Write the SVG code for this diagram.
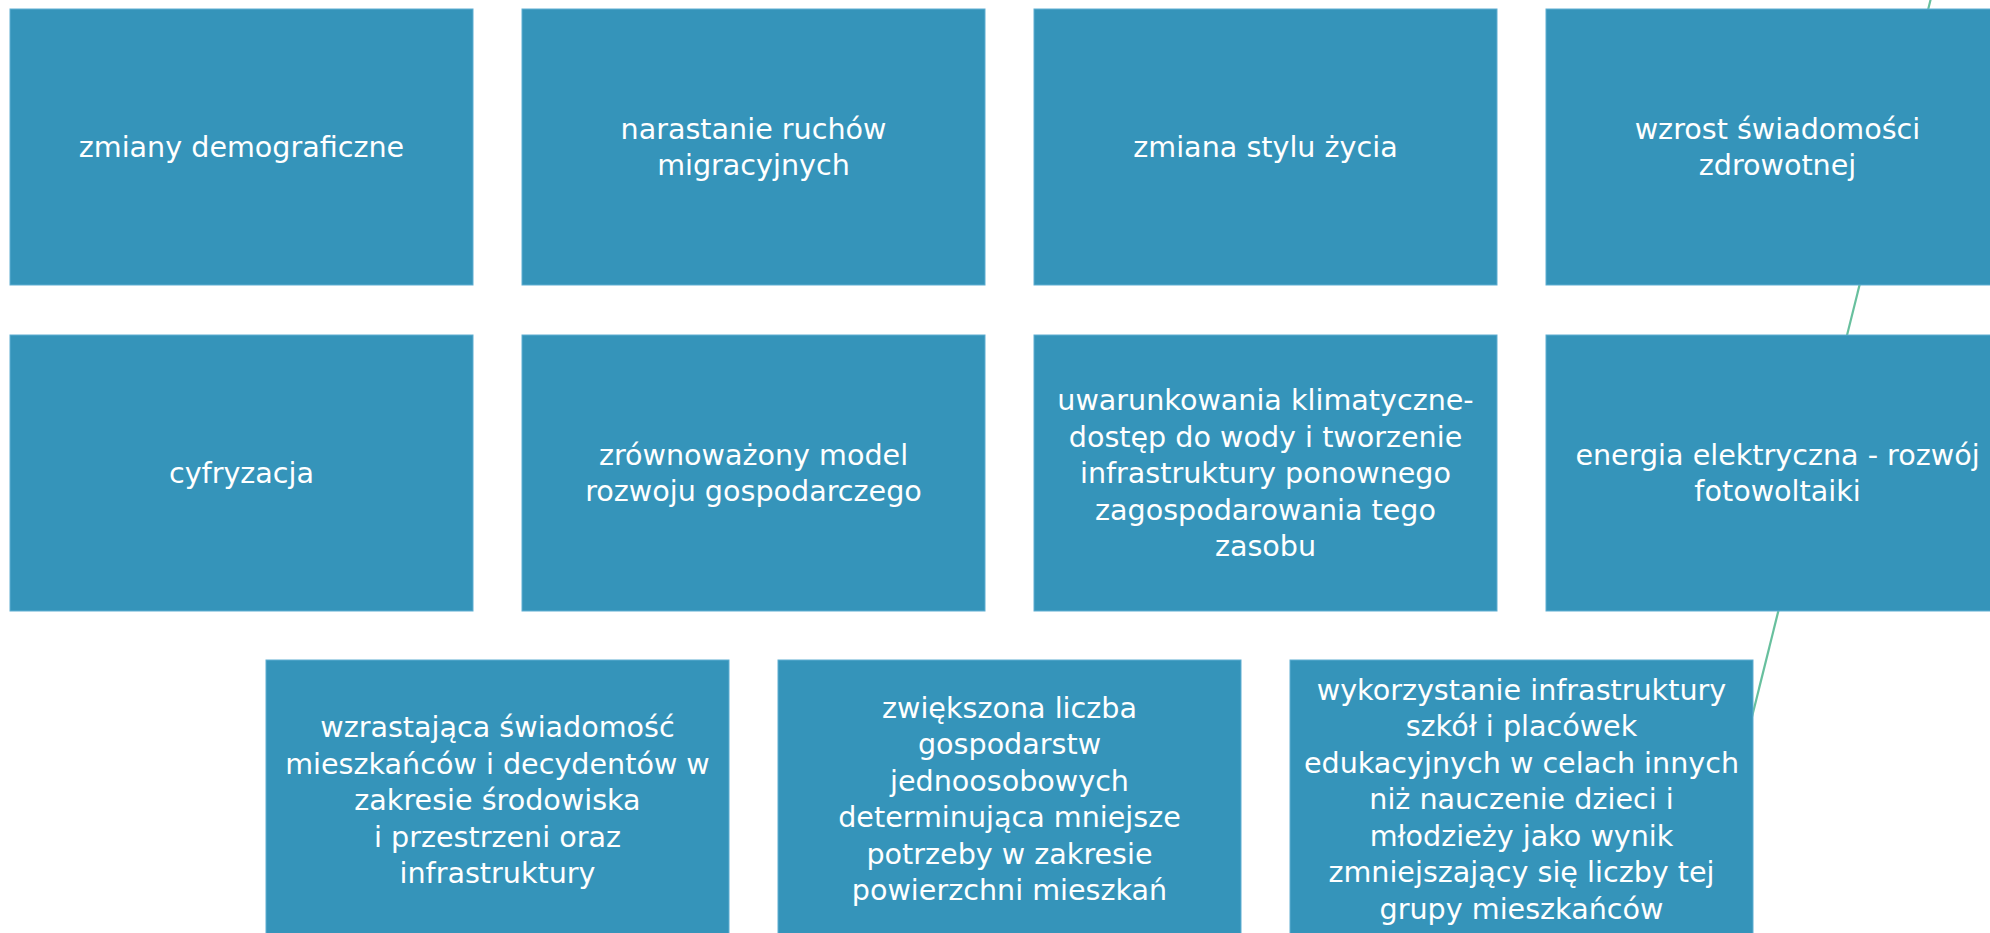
<svg xmlns="http://www.w3.org/2000/svg" width="1990" height="933" viewBox="0 0 1990 933">
<style>
.box{fill:#3594ba;stroke:#5eaed2;stroke-width:1}
.t{font-family:"DejaVu Sans","Open Sans",sans-serif;font-size:28.6px;fill:#ffffff;text-anchor:middle}
.conn{stroke:#68c09e;stroke-width:2.2;fill:none}
</style>
<rect width="1990" height="933" fill="#ffffff"/>
<g id="connectors">
<line class="conn" x1="1933" y1="-10" x2="1740" y2="765"/>
</g>
<g id="n1"><rect class="box" x="10" y="9" width="463" height="276"/>
<text class="t"><tspan x="241.5" y="157">zmiany demograficzne</tspan></text></g>
<g id="n2"><rect class="box" x="522" y="9" width="463" height="276"/>
<text class="t"><tspan x="753.5" y="138.75">narastanie ruchów</tspan><tspan x="753.5" y="175.25">migracyjnych</tspan></text></g>
<g id="n3"><rect class="box" x="1034" y="9" width="463" height="276"/>
<text class="t"><tspan x="1265.5" y="157">zmiana stylu życia</tspan></text></g>
<g id="n4"><rect class="box" x="1546" y="9" width="463" height="276"/>
<text class="t"><tspan x="1777.5" y="138.75">wzrost świadomości</tspan><tspan x="1777.5" y="175.25">zdrowotnej</tspan></text></g>
<g id="n5"><rect class="box" x="10" y="335" width="463" height="276"/>
<text class="t"><tspan x="241.5" y="483">cyfryzacja</tspan></text></g>
<g id="n6"><rect class="box" x="522" y="335" width="463" height="276"/>
<text class="t"><tspan x="753.5" y="464.75">zrównoważony model</tspan><tspan x="753.5" y="501.25">rozwoju gospodarczego</tspan></text></g>
<g id="n7"><rect class="box" x="1034" y="335" width="463" height="276"/>
<text class="t"><tspan x="1265.5" y="410">uwarunkowania klimatyczne-</tspan><tspan x="1265.5" y="446.5">dostęp do wody i tworzenie</tspan><tspan x="1265.5" y="483">infrastruktury ponownego</tspan><tspan x="1265.5" y="519.5">zagospodarowania tego</tspan><tspan x="1265.5" y="556">zasobu</tspan></text></g>
<g id="n8"><rect class="box" x="1546" y="335" width="463" height="276"/>
<text class="t"><tspan x="1777.5" y="464.75">energia elektryczna - rozwój</tspan><tspan x="1777.5" y="501.25">fotowoltaiki</tspan></text></g>
<g id="n9"><rect class="box" x="266" y="660" width="463" height="276"/>
<text class="t"><tspan x="497.5" y="737">wzrastająca świadomość</tspan><tspan x="497.5" y="773.5">mieszkańców i decydentów w</tspan><tspan x="497.5" y="810">zakresie środowiska</tspan><tspan x="497.5" y="846.5">i przestrzeni oraz</tspan><tspan x="497.5" y="883">infrastruktury</tspan></text></g>
<g id="n10"><rect class="box" x="778" y="660" width="463" height="276"/>
<text class="t"><tspan x="1009.5" y="717.75">zwiększona liczba</tspan><tspan x="1009.5" y="754.25">gospodarstw</tspan><tspan x="1009.5" y="790.75">jednoosobowych</tspan><tspan x="1009.5" y="827.25">determinująca mniejsze</tspan><tspan x="1009.5" y="863.75">potrzeby w zakresie</tspan><tspan x="1009.5" y="900.25">powierzchni mieszkań</tspan></text></g>
<g id="n11"><rect class="box" x="1290" y="660" width="463" height="276"/>
<text class="t"><tspan x="1521.5" y="699.5">wykorzystanie infrastruktury</tspan><tspan x="1521.5" y="736">szkół i placówek</tspan><tspan x="1521.5" y="772.5">edukacyjnych w celach innych</tspan><tspan x="1521.5" y="809">niż nauczenie dzieci i</tspan><tspan x="1521.5" y="845.5">młodzieży jako wynik</tspan><tspan x="1521.5" y="882">zmniejszający się liczby tej</tspan><tspan x="1521.5" y="918.5">grupy mieszkańców</tspan></text></g>
</svg>
